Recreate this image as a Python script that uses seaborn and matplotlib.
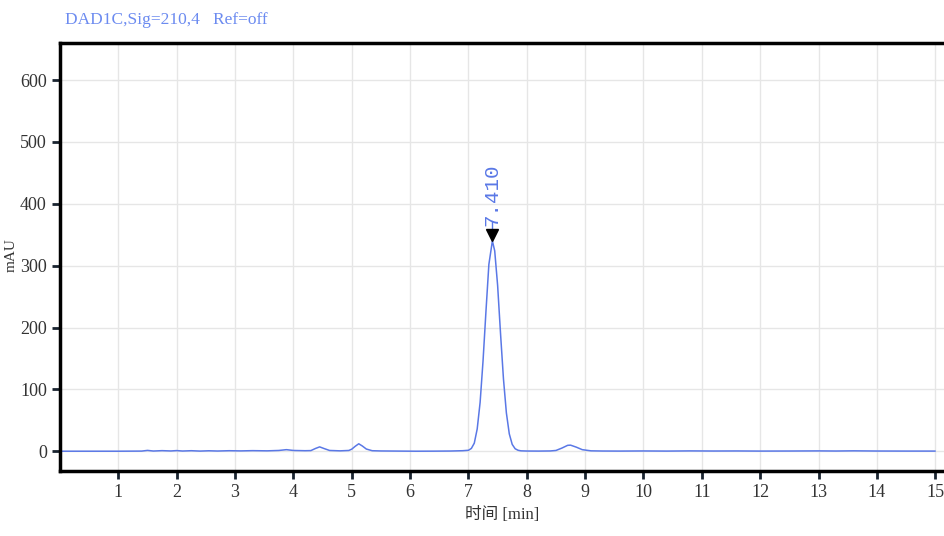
import pandas as pd
import seaborn as sns
import matplotlib.pyplot as plt

# retention time (min) and detector signal (mAU)
time_min = [0.0, 0.5, 1.0, 1.4, 1.5, 1.6, 1.75, 1.9, 2.0, 2.1, 2.25, 2.4, 2.55, 2.7,
            2.9, 3.1, 3.3, 3.55, 3.75, 3.88, 4.0, 4.2, 4.3, 4.38, 4.45, 4.52, 4.62,
            4.8, 4.95, 5.0, 5.06, 5.12, 5.18, 5.25, 5.35, 5.5, 5.8, 6.1, 6.4, 6.7,
            6.9, 7.0, 7.05, 7.1, 7.15, 7.2, 7.25, 7.3, 7.35, 7.41, 7.45, 7.5, 7.55,
            7.6, 7.65, 7.7, 7.75, 7.8, 7.85, 7.9, 8.0, 8.2, 8.4, 8.5, 8.6, 8.7,
            8.75, 8.85, 8.95, 9.1, 9.3, 9.6, 10.0, 10.4, 10.8, 11.2, 11.6, 12.0,
            12.5, 13.0, 13.3, 13.6, 14.0, 14.5, 15.0]
signal_mau = [0.0, 0.0, 0.0, 0.2, 1.3, 0.3, 0.9, 0.4, 1.0, 0.3, 0.8, 0.2, 0.7, 0.3,
              0.8, 0.5, 0.9, 0.6, 1.2, 2.5, 1.2, 0.8, 1.0, 4.5, 7.0, 4.5, 1.2,
              0.6, 1.2, 3.3, 8.0, 12.0, 8.5, 3.5, 0.8, 0.4, 0.2, 0.0, 0.1, 0.3,
              0.8, 1.5, 4.5, 13.0, 36.0, 79.0, 146.0, 226.0, 302.0, 340.0, 324.0,
              268.0, 190.0, 117.0, 62.0, 28.0, 11.0, 4.0, 1.5, 0.6, 0.3, 0.2, 0.4,
              1.2, 5.0, 9.5, 9.8, 6.5, 2.5, 0.6, 0.3, 0.2, 0.4, 0.2, 0.5, 0.3, 0.4,
              0.2, 0.3, 0.5, 0.3, 0.6, 0.3, 0.2, 0.2]

peak_time = 7.41
peak_height = 340.0
peak_label = "7.410"

x_ticks = list(range(1, 16))
y_ticks = [0, 100, 200, 300, 400, 500, 600]

df = pd.DataFrame({"time": time_min, "signal": signal_mau})

sns.set_style("whitegrid")
plt.rcParams['font.family'] = ['Liberation Serif', 'Noto Sans CJK SC']

fig = plt.figure(figsize=(9.44, 5.36), dpi=100)
ax = fig.add_axes([60 / 944, 1 - 471 / 536, 1 - 60 / 944, (471 - 43) / 536])

sns.lineplot(x="time", y="signal", data=df, ax=ax, color="#5a78e6", linewidth=1.1)

# peak marker and retention time label
ax.text(peak_time, peak_height + 24, peak_label, rotation=90, ha="center", va="bottom",
        color="#5a78e6", fontsize=15, family="Liberation Mono", zorder=2)
ax.plot([peak_time, peak_time], [peak_height + 8, peak_height + 32], color="#5a78e6",
        linewidth=1, zorder=3)
ax.plot([peak_time], [peak_height + 9], marker="v", color="black", markersize=8, zorder=4)

ax.set_xlim(0, 15.15)
ax.set_ylim(-32, 660)
ax.set_xticks(x_ticks)
ax.set_yticks(y_ticks)
ax.grid(True, color="#e6e6e6", linewidth=1)

for side in ["left", "bottom", "top"]:
    ax.spines[side].set_color("black")
    ax.spines[side].set_linewidth(2.5)
ax.spines["right"].set_visible(False)

ax.tick_params(axis="both", direction="out", length=6, width=2, color="#1a2430",
               labelsize=13, labelcolor="#333333", bottom=True, left=True)

ax.set_xlabel("时间 [min]", fontsize=12, color="#333333")
ax.set_ylabel("mAU", fontsize=11, color="#333333")
ax.yaxis.set_label_coords(-42 / 884, 0.505)

fig.text(65 / 944, 1 - 20 / 536, "DAD1C,Sig=210,4   Ref=off", color="#6c8bf0",
         fontsize=12.5, va="center", ha="left")

plt.savefig("out.png", dpi=100)
